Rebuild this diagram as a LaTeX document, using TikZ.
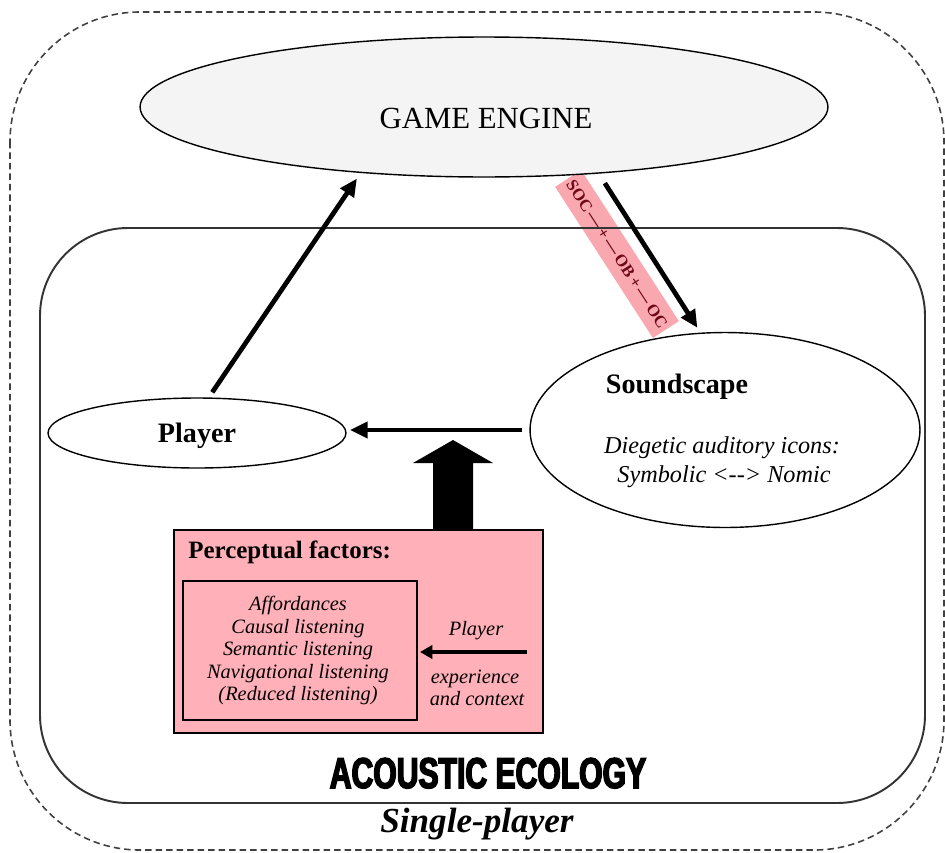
\documentclass[tikz,border=0pt]{standalone}
\usepackage{fontspec}
\setmainfont{Liberation Serif}
\newfontfamily\heavysans[FakeBold=3.5,FakeStretch=0.70]{Liberation Sans}
\usetikzlibrary{shapes.geometric,arrows.meta}
\definecolor{rosefill}{RGB}{255,176,184}
\definecolor{bandpink}{RGB}{250,168,176}
\definecolor{bandred}{RGB}{110,8,25}
\definecolor{enginegray}{RGB}{244,244,244}
\tikzset{
  oval/.style={ellipse,draw=black,line width=0.8pt,outer sep=0pt,inner sep=0pt},
  flow/.style={line width=2.7pt,-{Triangle[length=10pt,width=9pt]}},
  thinflow/.style={line width=2.2pt,-{Triangle[length=7pt,width=7.5pt]}},
  lbl/.style={inner sep=0pt,anchor=base},
  titlefont/.style={font=\fontsize{17.5}{20}\selectfont},
  headfont/.style={font=\fontsize{16}{19}\selectfont\bfseries},
  notefont/.style={font=\fontsize{13.8}{16}\selectfont\itshape},
  listfont/.style={font=\fontsize{11.6}{13}\selectfont\itshape},
}
\begin{document}
\begin{tikzpicture}[x=0.02cm,y=-0.02cm]
\useasboundingbox (0,0) rectangle (945,852);

% outer dashed frame
\draw[draw=black!75,line width=0.9pt,dash pattern=on 1.3mm off 0.8mm,rounded corners=2.6cm]
  (10,12) rectangle (944,850);

% labelled band beside the game engine output
\node[fill=bandpink,rotate=-57.1,minimum width=3.6cm,minimum height=0.62cm,inner sep=0pt,
  text=bandred,font=\bfseries\fontsize{9.5}{11}\selectfont]
  (band) at (617,254) {SOC\,—\,+\,—\,OB\,+\,—\,OC};

% acoustic ecology frame
\draw[draw=black!80,line width=1.1pt,rounded corners=1.76cm]
  (40,228) rectangle (925,803);

% main components
\node[oval,fill=enginegray,minimum width=13.76cm,minimum height=2.8cm] (engine) at (484,107) {};
\node[titlefont,lbl] (enginetext) at (486,128) {GAME ENGINE};

\node[oval,minimum width=7.8cm,minimum height=3.9cm] (sound) at (725,430) {};
\node[headfont,lbl] (soundtitle) at (677,393) {Soundscape};
\node[notefont,lbl] (soundline1) at (722,453) {Diegetic auditory icons:};
\node[notefont,lbl] (soundline2) at (724,482) {Symbolic <-{}-> Nomic};

\node[oval,minimum width=5.96cm,minimum height=1.4cm] (player) at (197,433) {};
\node[headfont,lbl] (playertext) at (197,442) {Player};

% flows between the components
\draw[flow,shorten <=1.4mm,shorten >=1.5mm] (player.72) -- (engine.208);
\draw[flow,shorten <=2.4mm,shorten >=1.3mm] (engine.-30) -- (sound.104);
\draw[flow,shorten <=1.6mm,shorten >=0.8mm] (sound.west) -- (player.east |- sound.west);

% perceptual factors box
\node[draw=black,line width=0.8pt,fill=rosefill,minimum width=7.38cm,minimum height=4.06cm,
  inner sep=0pt,outer sep=0pt] (factors) at (358.5,631.5) {};
\node[draw=black,line width=0.8pt,minimum width=4.68cm,minimum height=2.78cm,
  inner sep=0pt,outer sep=0pt] (listbox) at (300,650.5) {};
\node[font=\fontsize{14.2}{16}\selectfont\bfseries,inner sep=0pt,anchor=base west]
  (factorstitle) at (188,558) {Perceptual factors:};
\node[listfont,lbl] (item1) at (298,610) {Affordances};
\node[listfont,lbl] (item2) at (298,633) {Causal listening};
\node[listfont,lbl] (item3) at (298,655) {Semantic listening};
\node[listfont,lbl] (item4) at (298,678) {Navigational listening};
\node[listfont,lbl] (item5) at (298,700) {(Reduced listening)};

\node[listfont,lbl] (ctxplayer) at (476,635) {Player};
\node[listfont,lbl] (ctxexp) at (475,683) {experience};
\node[listfont,lbl] (ctxand) at (477,705) {and context};
\coordinate (ctxstart) at (527,652);
\draw[thinflow,shorten >=0.6mm] (ctxstart) -- (ctxstart -| listbox.east);

% block arrow from the factors up into the player flow
\fill[black] (453,440) -- (493,463) -- (473,463) -- (473,529) -- (433,529) -- (433,463) -- (413,463) -- cycle;

% frame captions
\node[font=\heavysans\bfseries\fontsize{24.5}{26}\selectfont,lbl] (ecology) at (488,788) {ACOUSTIC ECOLOGY};
\node[font=\fontsize{20}{23}\selectfont\bfseries\itshape,lbl] (mode) at (477,832) {Single-player};
\end{tikzpicture}
\end{document}
